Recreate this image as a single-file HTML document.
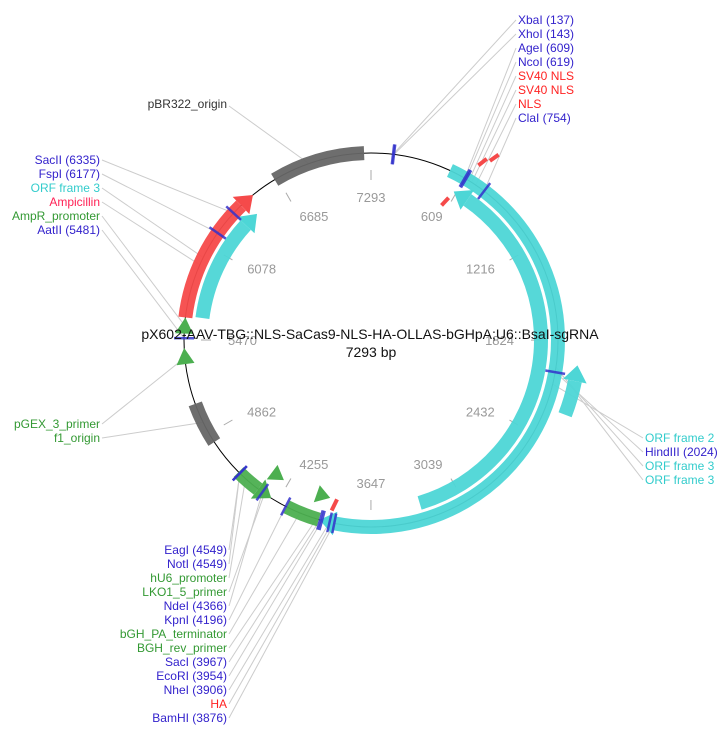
<!DOCTYPE html>
<html><head><meta charset="utf-8"><style>
html,body{margin:0;padding:0;background:#fff}
svg{display:block;font-family:"Liberation Sans",Arial,sans-serif}
</style></head><body>
<svg id="map" width="727" height="734" viewBox="0 0 727 734" xmlns="http://www.w3.org/2000/svg"></svg>
<script>
const total = 7293;
const tickValues = [0,609,1216,1824,2432,3039,3647,4255,4862,5470,6078,6685];
const tickLabels = ["7293","609","1216","1824","2432","3039","3647","4255","4862","5470","6078","6685"];
const featNames = ["orf-main-outer","orf-main-inner","orf-frame-2","orf-frame-3-left","ampicillin","pbr322-origin","f1-origin","hu6-promoter","bgh-pa-terminator"];
const featStart = [506,590,1965,5620,5610,6665,4800,4300,3975];
const featEnd   = [3970,3310,2250,6440,6500,7250,5065,4560,4190];
const featRing  = [0,-17,21,-17,0,0,0,0,0];
const featColor = ["#4dd6d6","#4dd6d6","#4dd6d6","#4dd6d6","#f54a4a","#666666","#666666","#4caf50","#4caf50"];
const featArrow = [1,-1,-1,1,1,0,0,-1,0];
const cutNames = ["XbaI","XhoI","AgeI","NcoI","ClaI","HindIII","SacII","FspI","AatII","EagI","NotI","NdeI","KpnI","SacI","EcoRI","NheI","BamHI"];
const cutPos = [137,143,609,619,754,2024,6335,6177,5481,4549,4549,4366,4196,3967,3954,3906,3876];
const primerPos = [5550,5360,4352,4000];
const primerRing = [0,0,-22,-24];
const primerDir = [1,1,-1,-1];

const svg = document.getElementById('map');
const NS = 'http://www.w3.org/2000/svg';
const cx = 371, cy = 340, R = 187;
function ang(bp){return bp/total*2*Math.PI;}
function pt(bp,r){const a=ang(bp);return [cx+r*Math.sin(a), cy-r*Math.cos(a)];}
function mk(tag,attrs){const e=document.createElementNS(NS,tag);for(const k in attrs)e.setAttribute(k,attrs[k]);svg.appendChild(e);return e;}

const labelsRT = [["XbaI (137)","#3322cc",137],["XhoI (143)","#3322cc",143],["AgeI (609)","#3322cc",609],["NcoI (619)","#3322cc",619],["SV40 NLS","#ff2222",640],["SV40 NLS","#ff2222",660],["NLS","#ff2222",690],["ClaI (754)","#3322cc",754]];
const labelsLT = [["SacII (6335)","#3322cc",6335],["FspI (6177)","#3322cc",6177],["ORF frame 3","#33cccc",6000],["Ampicillin","#ff2255",5950],["AmpR_promoter","#339933",5560],["AatII (5481)","#3322cc",5481]];
const labelsLB = [["EagI (4549)","#3322cc",4549],["NotI (4549)","#3322cc",4549],["hU6_promoter","#339933",4500],["LKO1_5_primer","#339933",4350],["NdeI (4366)","#3322cc",4366],["KpnI (4196)","#3322cc",4196],["bGH_PA_terminator","#339933",4100],["BGH_rev_primer","#339933",3990],["SacI (3967)","#3322cc",3967],["EcoRI (3954)","#3322cc",3954],["NheI (3906)","#3322cc",3906],["HA","#ff2222",3890],["BamHI (3876)","#3322cc",3876]];
const labelsR = [["ORF frame 2","#33cccc",2100],["HindIII (2024)","#3322cc",2024],["ORF frame 3","#33cccc",2000],["ORF frame 3","#33cccc",1990]];
const labelsML = [["pGEX_3_primer","#339933",5360],["f1_origin","#339933",4940]];

function leader(x,y,bp){const p=pt(bp,R);const l=mk('line',{x1:x,y1:y,x2:p[0],y2:p[1],stroke:'#cccccc','stroke-width':1});

}
labelsRT.forEach((d,i)=>leader(516,20+i*14,d[2]));
labelsLT.forEach((d,i)=>leader(102,160+i*14,d[2]));
labelsLB.forEach((d,i)=>leader(229,550+i*14,d[2]));
labelsR.forEach((d,i)=>leader(643,438+i*14,d[2]));
labelsML.forEach((d,i)=>leader(102,424+i*14,d[2]));
leader(229,106,6900);

const bb=mk('circle',{cx:cx,cy:cy,r:R,fill:'none',stroke:'#000','stroke-width':1});



tickValues.forEach((v,i)=>{
  const a=pt(v,160),b=pt(v,170),t=pt(v,143);
  const l=mk('line',{x1:a[0],y1:a[1],x2:b[0],y2:b[1],stroke:'#aaa','stroke-width':1});
  
  
  const s=Math.sin(ang(v));
  const anchor = s>0.3?'end':(s<-0.3?'start':'middle');
  const tx=mk('text',{x:t[0],y:t[1]+5,'text-anchor':anchor,'font-size':13,fill:'#999'});
  tx.textContent=tickLabels[i];
  
  
});

function arcPath(s,e,r){const p1=pt(s,r),p2=pt(e,r);const large=(e-s)/total>0.5?1:0;return `M${p1[0]},${p1[1]} A${r},${r} 0 ${large} 1 ${p2[0]},${p2[1]}`;}
featStart.forEach((s,i)=>{
  const r=R+featRing[i];const w=14;let e=featEnd[i];let st=s;
  const headBp=Math.round(16/(2*Math.PI*r)*total);
  if(featArrow[i]===1)e-=headBp; if(featArrow[i]===-1)st+=headBp;
  const p=mk('path',{d:arcPath(st,e,r),fill:'none',stroke:featColor[i],'stroke-width':w,opacity:0.95});
  
  
  if(featArrow[i]!==0){
    const base=featArrow[i]===1?e:st, tip=featArrow[i]===1?featEnd[i]:s;
    const a=pt(base,r-12),b=pt(base,r+12),c=pt(tip,r);
    const h=mk('polygon',{points:`${a} ${b} ${c}`,fill:featColor[i]});
    
    
  }
});
primerPos.forEach((v,i)=>{
  const r=R+primerRing[i];const d=primerDir[i];
  const a=pt(v-40*d,r-9),b=pt(v-40*d,r+9),c=pt(v+60*d,r);
  const h=mk('polygon',{points:`${a} ${b} ${c}`,fill:'#4caf50'});
  
  
});
cutPos.forEach((v,i)=>{
  const a=pt(v,R-10),b=pt(v,R+10);
  const l=mk('line',{x1:a[0],y1:a[1],x2:b[0],y2:b[1],stroke:'#3333cc','stroke-width':2.5,opacity:0.85});
  
  
});
[[640,205,215],[680,215,225],[560,152,162],[3890,163,175]].forEach(d=>{
  const a=pt(d[0],d[1]),b=pt(d[0]+20,d[2]);
  const l=mk('line',{x1:a[0],y1:a[1],x2:b[0],y2:b[1],stroke:'#f54a4a','stroke-width':4});
  
  
});

function lab(x,y,txt,col,anchor){const t=mk('text',{x:x,y:y+4,'text-anchor':anchor,'font-size':12,fill:col});t.textContent=txt;

}
labelsRT.forEach((d,i)=>lab(518,20+i*14,d[0],d[1],'start'));
labelsLT.forEach((d,i)=>lab(100,160+i*14,d[0],d[1],'end'));
labelsLB.forEach((d,i)=>lab(227,550+i*14,d[0],d[1],'end'));
labelsR.forEach((d,i)=>lab(645,438+i*14,d[0],d[1],'start'));
labelsML.forEach((d,i)=>lab(100,424+i*14,d[0],d[1],'end'));
lab(227,104,'pBR322_origin','#333','end');

const t1=mk('text',{x:370,y:339,'text-anchor':'middle','font-size':14,fill:'#111'});
t1.textContent='pX602-AAV-TBG::NLS-SaCas9-NLS-HA-OLLAS-bGHpA;U6::BsaI-sgRNA';


const t2=mk('text',{x:371,y:357,'text-anchor':'middle','font-size':14,fill:'#111'});
t2.textContent='7293 bp';


</script>
</body></html>
